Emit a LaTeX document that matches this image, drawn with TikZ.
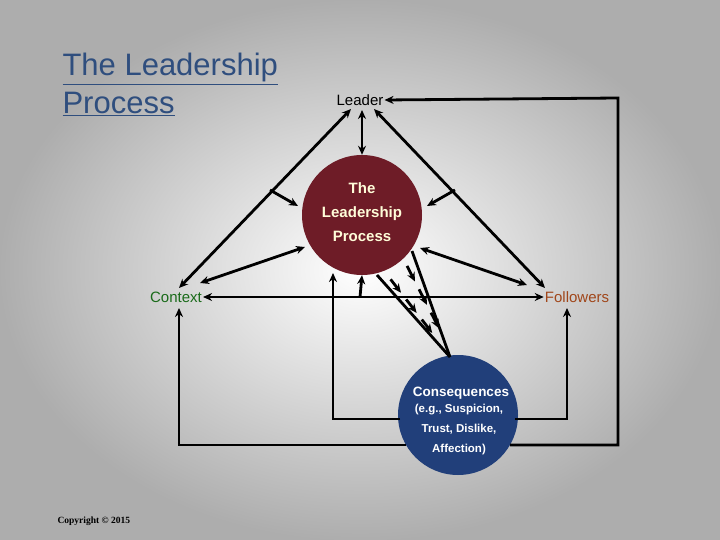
\documentclass[tikz,border=0pt]{standalone}
\usepackage{fontspec}
\setmainfont{Liberation Sans}
\newfontfamily\serifcp{Liberation Serif}
\usetikzlibrary{arrows.meta,calc}
\definecolor{lpred}{HTML}{6E1C27}
\definecolor{cblue}{HTML}{213F7A}
\definecolor{ttl}{HTML}{2F4E7E}
\definecolor{ctx}{HTML}{1A6B1A}
\definecolor{fol}{HTML}{A0461A}
\begin{document}
\begin{tikzpicture}[x=1pt,y=-1pt,
  conn/.style={line width=2.8pt,-{Stealth[length=9pt,width=8pt]}},
  dbl/.style={line width=2.8pt,{Stealth[length=9pt,width=8pt]}-{Stealth[length=9pt,width=8pt]}},
  lbl/.style={font=\fontsize{15}{18}\selectfont,inner sep=1pt}]
\useasboundingbox (0,0) rectangle (720,540);
\shade[inner color=white,outer color=black!32] (0,0) rectangle (720,540);
% title
\node[anchor=north west,align=left,text=ttl,font=\fontsize{31}{38}\selectfont] (title) at (59,50) {\underline{The Leadership}\\\underline{Process}};
\node[anchor=west,font=\serifcp\bfseries\fontsize{9.5}{10}\selectfont] (copy) at (54,521) {Copyright © 2015};
% nodes
\node[lbl] (leader) at (360,100) {Leader};
\node[lbl,text=ctx] (context) at (176,297) {Context};
\node[lbl,text=fol] (follow) at (577,297) {Followers};
\node[circle,fill=lpred,minimum size=120pt,inner sep=0pt] (lp) at (362,215) {};
\node[text=yellow!15,align=center,font=\bfseries\fontsize{15}{24}\selectfont] at (362,212) {The\\Leadership\\Process};
\node[circle,fill=cblue,minimum size=120pt,inner sep=0pt] (cq) at (458,415) {};
\node[text=white,align=center,font=\bfseries\fontsize{13.5}{18}\selectfont] at (461,393) {Consequences};
\node[text=white,align=center,font=\bfseries\fontsize{11.5}{20}\selectfont] at (459,430) {(e.g., Suspicion,\\Trust, Dislike,\\Affection)};
\coordinate (l0) at (362,110);
\coordinate (l1) at (351,109); \coordinate (l2) at (374,109);
\coordinate (c1) at (179,288); \coordinate (f1) at (545,288);
% leader links
\draw[dbl] (l0) -- (lp.north);
\draw[dbl] (l1) -- (c1);
\draw[dbl] (l2) -- (f1);
\coordinate (m1) at (270,190); \coordinate (m2) at (455,190);
\draw[conn] (m1) -- (298,206);
\draw[conn] (m2) -- (427,206);
\draw[dbl] (305,247) -- (200,283);
\draw[dbl] (420,248) -- (527,285);
\draw[dbl] (context.east) -- (follow.west);
\draw[conn] (360,297) -- (lp.south);
% consequences lines
\coordinate (ct) at (450,357);
\draw[line width=2.8pt] (ct) -- (377,275);
\draw[line width=2.8pt] (ct) -- (412,251);
\foreach \a/\b in {0.05/0.25,0.35/0.55,0.65/0.85}{
  \draw[conn] ($(388,276)!\a!(440,343)$) -- ($(388,276)!\b!(440,343)$);
  \draw[conn] ($(405,262)!\a!(445,340)$) -- ($(405,262)!\b!(445,340)$);
}
% feedback loops
\draw[conn] (510,445) -- (618,445) -- (618,98) -- (leader.east);
\draw[conn] (406,445) -- (179,445) -- (179,308);
\draw[conn] (400,419) -- (333,419) -- (333,273);
\draw[conn] (515,419) -- (567,419) -- (567,308);
\end{tikzpicture}
\end{document}
